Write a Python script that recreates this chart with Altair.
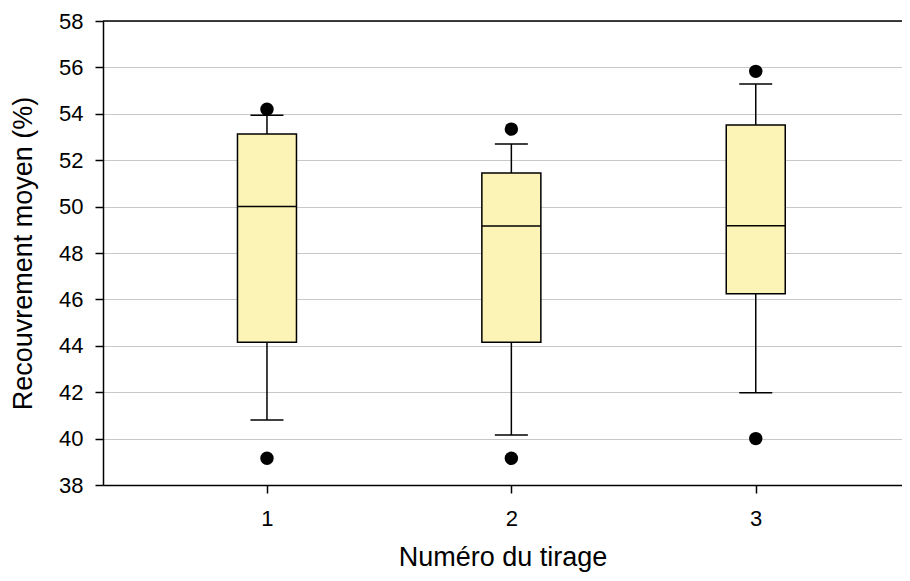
import altair as alt
import pandas as pd

# ---- data ----
tirage = [1, 2, 3]
whisker_low = [40.8, 40.15, 41.98]
q1 = [44.15, 44.15, 46.24]
median = [50.0, 49.16, 49.17]
q3 = [53.13, 51.45, 53.52]
whisker_high = [53.94, 52.70, 55.28]

outlier_tirage = [1, 1, 2, 2, 3, 3]
outlier_values = [54.20, 39.15, 53.34, 39.15, 55.83, 40.0]

y_ticks = [38, 40, 42, 44, 46, 48, 50, 52, 54, 56, 58]
x_ticks = [1, 2, 3]

stats = pd.DataFrame({
    "tirage": tirage,
    "lw": whisker_low,
    "q1": q1,
    "med": median,
    "q3": q3,
    "uw": whisker_high,
})
outliers = pd.DataFrame({"tirage": outlier_tirage, "val": outlier_values})

FONT = "Liberation Sans"
FILL = "#FCF3B6"

xscale = alt.Scale(domain=[0.3495, 3.578], nice=False, zero=False)
yscale = alt.Scale(domain=[38, 58], nice=False, zero=False)

X = alt.X(
    "tirage:Q",
    scale=xscale,
    axis=alt.Axis(
        values=x_ticks, format="d", grid=False, title="Numéro du tirage",
        tickSize=8, labelPadding=15, titlePadding=15,
    ),
)
Y_axis = alt.Axis(
    values=y_ticks, grid=True, title="Recouvrement moyen (%)",
    tickSize=8, labelPadding=12, titlePadding=21,
)

base = alt.Chart(stats)

lower = base.mark_rule(color="black", strokeWidth=1.5).encode(
    x=X, y=alt.Y("lw:Q", scale=yscale, axis=Y_axis), y2="q1:Q"
)
upper = base.mark_rule(color="black", strokeWidth=1.5).encode(
    x="tirage:Q", y="q3:Q", y2="uw:Q"
)
cap_low = base.mark_tick(orient="horizontal", size=33, thickness=1.5, color="black", opacity=1).encode(
    x="tirage:Q", y="lw:Q"
)
cap_high = base.mark_tick(orient="horizontal", size=33, thickness=1.5, color="black", opacity=1).encode(
    x="tirage:Q", y="uw:Q"
)
box = base.mark_bar(size=59, fill=FILL, stroke="black", strokeWidth=1.5, opacity=1).encode(
    x="tirage:Q", y="q1:Q", y2="q3:Q"
)
med = base.mark_tick(orient="horizontal", size=59, thickness=1.5, color="black", opacity=1).encode(
    x="tirage:Q", y="med:Q"
)
pts = alt.Chart(outliers).mark_circle(size=180, color="black", opacity=1).encode(
    x="tirage:Q", y="val:Q"
)
top_line = alt.Chart(pd.DataFrame({"v": [58]})).mark_rule(color="black", strokeWidth=1.5).encode(
    y="v:Q"
)

chart = (
    alt.layer(lower, upper, box, med, cap_low, cap_high, pts, top_line)
    .properties(
        width=799,
        height=464,
        autosize=alt.AutoSizeParams(type="none"),
        padding={"left": 95, "top": 13, "right": 0, "bottom": 88},
        background="white",
    )
    .configure_view(stroke=None)
    .configure_axis(
        labelFont=FONT, titleFont=FONT, labelFontSize=22, titleFontSize=27,
        labelColor="black", titleColor="black", titleFontWeight="normal",
        domainColor="black", domainWidth=1.5, tickColor="black", tickWidth=1.5,
        gridColor="#C8C8C8", gridWidth=1,
    )
)

chart.save("out.html", embed_options={"renderer": "svg", "actions": False})
